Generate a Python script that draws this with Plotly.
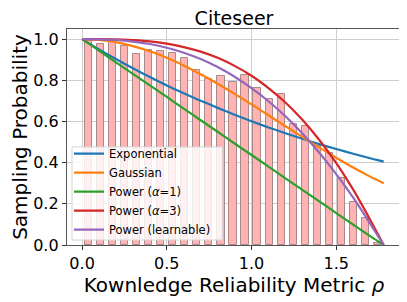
import plotly.graph_objects as go

# Histogram-like bars (bin centers and heights)
bar_rho = [0.036, 0.107, 0.178, 0.249, 0.320, 0.392, 0.463, 0.534, 0.605, 0.676,
           0.748, 0.819, 0.890, 0.961, 1.032, 1.104, 1.175, 1.246, 1.317, 1.388,
           1.460, 1.531, 1.602, 1.673, 1.744]
bar_prob = [0.995, 0.974, 0.987, 0.967, 0.928, 0.945, 0.941, 0.932, 0.909, 0.849,
            0.808, 0.820, 0.790, 0.824, 0.763, 0.711, 0.735, 0.589, 0.576, 0.480,
            0.447, 0.325, 0.210, 0.130, 0.010]

# Curves
rho = [0.0, 0.1, 0.2, 0.3, 0.4, 0.5, 0.6, 0.7, 0.8, 0.9, 1.0, 1.1, 1.2, 1.3, 1.4,
       1.5, 1.6, 1.7, 1.78]
exponential = [1.0, 0.950, 0.903, 0.858, 0.816, 0.775, 0.737, 0.700, 0.666, 0.633,
               0.601, 0.571, 0.543, 0.516, 0.490, 0.466, 0.443, 0.421, 0.405]
gaussian = [1.0, 0.996, 0.985, 0.966, 0.941, 0.909, 0.872, 0.829, 0.783, 0.734,
            0.683, 0.630, 0.577, 0.525, 0.473, 0.424, 0.376, 0.332, 0.300]
power1 = [1.0, 0.944, 0.887, 0.831, 0.775, 0.719, 0.662, 0.606, 0.550, 0.493,
          0.437, 0.381, 0.324, 0.268, 0.212, 0.155, 0.099, 0.043, 0.0]
power3 = [1.0, 1.000, 0.999, 0.995, 0.989, 0.978, 0.961, 0.939, 0.909, 0.870,
          0.822, 0.762, 0.692, 0.608, 0.510, 0.398, 0.269, 0.123, 0.0]
power_learn = [1.0, 0.999, 0.996, 0.988, 0.976, 0.958, 0.934, 0.903, 0.864, 0.817,
               0.762, 0.698, 0.625, 0.542, 0.448, 0.344, 0.230, 0.104, 0.0]

series = [
    ("Exponential", exponential, "#1f77b4"),
    ("Gaussian", gaussian, "#ff7f0e"),
    ("Power (<i>α</i>=1)", power1, "#2ca02c"),
    ("Power (<i>α</i>=3)", power3, "#d62728"),
    ("Power (learnable)", power_learn, "#9467bd"),
]

FONT = "DejaVu Sans"

fig = go.Figure()
fig.add_trace(go.Bar(
    x=bar_rho, y=bar_prob, width=0.043, showlegend=False,
    marker=dict(color="#ffb3b3", line=dict(color="rgba(140,110,110,0.75)", width=1)),
))
for name, vals, col in series:
    fig.add_trace(go.Scatter(
        x=rho, y=vals, mode="lines", name=name,
        line=dict(color=col, width=2.2, shape="spline", smoothing=0.6),
    ))

# Legend frame (matplotlib-style box), drawn as a shape behind the legend entries
fig.add_shape(type="rect", xref="paper", yref="paper",
              x0=0.015, x1=0.465, y0=0.023, y1=0.454, layer="above",
              fillcolor="rgba(255,255,255,0.82)",
              line=dict(color="#d4d4d4", width=1))

# The page adds an 8px body margin, so the figure is 8px smaller each way.
fig.update_layout(
    width=399, height=294,
    margin=dict(l=59, r=6, t=21, b=57),
    paper_bgcolor="white", plot_bgcolor="white",
    font=dict(family=FONT, color="black"),
    title=dict(text="Citeseer", x=0.5, xref="paper", y=0.964, yanchor="middle",
               xanchor="center", font=dict(size=19, family=FONT)),
    legend=dict(x=0.006, y=0.49, xanchor="left", yanchor="top",
                bgcolor="rgba(0,0,0,0)", borderwidth=0,
                font=dict(size=11.5, family=FONT), tracegroupgap=0,
                itemwidth=30),
    bargap=0,
)
fig.update_xaxes(
    range=[-0.089, 1.882], tickvals=[0.0, 0.5, 1.0, 1.5],
    ticktext=["0.0", "0.5", "1.0", "1.5"],
    tickfont=dict(size=16), ticks="outside", ticklen=4, tickcolor="#333",
    showgrid=True, gridcolor="#cfcfcf", gridwidth=1.2,
    showline=True, linecolor="#555", linewidth=1.3, mirror=True,
    zeroline=False,
    title=dict(text="Kownledge Reliability Metric <i>ρ</i>", font=dict(size=20), standoff=3),
)
fig.update_yaxes(
    range=[0, 1.049], tickvals=[0, 0.2, 0.4, 0.6, 0.8, 1.0],
    ticktext=["0.0", "0.2", "0.4", "0.6", "0.8", "1.0"],
    tickfont=dict(size=16), ticks="outside", ticklen=4, tickcolor="#333",
    showgrid=True, gridcolor="#cfcfcf", gridwidth=1.2,
    showline=True, linecolor="#555", linewidth=1.3, mirror=True,
    zeroline=False,
    title=dict(text="Sampling Probability", font=dict(size=20), standoff=4),
)

fig.write_html("out.html")
